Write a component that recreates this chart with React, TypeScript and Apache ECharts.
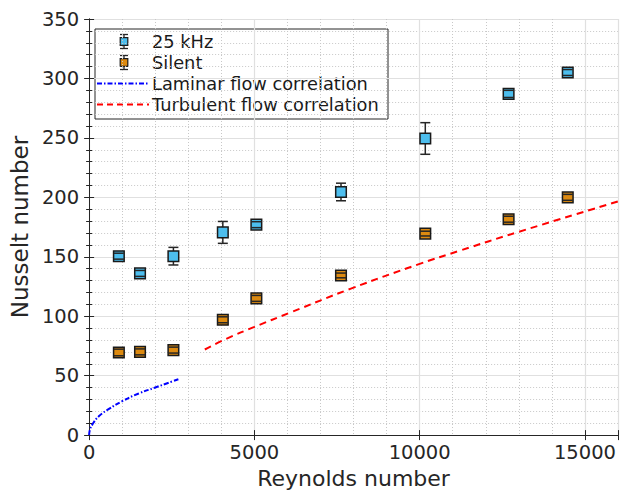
import React, { useEffect, useRef } from "react";
import * as echarts from "echarts";

const reKhz = [900, 1540, 2550, 4045, 5060, 7620, 10170, 12690, 14480];
const nuKhz = [150.5, 136, 150.5, 170.5, 177, 204.5, 249.5, 287, 305];
const errKhz = [2.5, 2.5, 7.4, 9.2, 2.5, 7.4, 13.3, 3, 2.5];

const reSilent = [900, 1540, 2550, 4045, 5060, 7620, 10170, 12690, 14480];
const nuSilent = [69.5, 70, 71.5, 97, 115, 134.3, 169.5, 181.6, 200];
const errSilent = [2.8, 2.5, 2.5, 2.5, 2.5, 2, 2, 2.5, 2.5];

const laminarRe = [0, 20, 100, 300, 600, 1000, 1500, 2000, 2700];
const laminarNu = [0, 4, 9, 16, 22, 28.5, 35, 40, 47];

const turbRe = [3500, 4150, 5000, 6080, 7900, 10000, 11200, 13000, 16000];
const turbNu = [72, 81, 91, 103, 123, 144, 155, 171, 196.5];

const xTicks = [0, 5000, 10000, 15000];
const yTicks = [0, 50, 100, 150, 200, 250, 300, 350];

const FONT = "DejaVu Sans, Liberation Sans, Arial, sans-serif";
const AX = "#262626";
const BLUE_FILL = "#4DBEEE";
const ORANGE_FILL = "#DD8A10";

function errRender(fill: string) {
  return (params: any, api: any) => {
    const x = api.value(0);
    const y = api.value(1);
    const e = api.value(2);
    const p = api.coord([x, y]);
    const t = api.coord([x, y + e]);
    const b = api.coord([x, y - e]);
    const h = 5.3;
    const c = 5;
    const ls = { stroke: AX, lineWidth: 1.5 };
    return {
      type: "group",
      children: [
        { type: "line", shape: { x1: p[0], y1: t[1], x2: p[0], y2: b[1] }, style: ls },
        {
          type: "rect",
          shape: { x: p[0] - h, y: p[1] - h, width: 2 * h, height: 2 * h },
          style: { fill, stroke: "#1a1a1a", lineWidth: 1.5 },
        },
        { type: "line", shape: { x1: p[0] - c, y1: t[1], x2: p[0] + c, y2: t[1] }, style: ls },
        { type: "line", shape: { x1: p[0] - c, y1: b[1], x2: p[0] + c, y2: b[1] }, style: ls },
      ],
    };
  };
}

function legendIcon(cx: number, cy: number, fill: string) {
  const h = 3.8;
  const ls = { stroke: AX, lineWidth: 1.3 };
  return [
    { type: "line", shape: { x1: cx, y1: cy - 7, x2: cx, y2: cy + 7 }, style: ls },
    { type: "rect", shape: { x: cx - h, y: cy - h, width: 2 * h, height: 2 * h }, style: { fill, stroke: "#1a1a1a", lineWidth: 1.2 } },
    { type: "line", shape: { x1: cx - 4, y1: cy - 7, x2: cx + 4, y2: cy - 7 }, style: ls },
    { type: "line", shape: { x1: cx - 4, y1: cy + 7, x2: cx + 4, y2: cy + 7 }, style: ls },
  ];
}

export default function App() {
  const ref = useRef<HTMLDivElement>(null);
  useEffect(() => {
    if (!ref.current) return;
    const chart = echarts.init(ref.current, null, { renderer: "svg" });
    const baseX = {
      type: "value" as const,
      min: 0,
      max: 16000,
      interval: 5000,
    };
    const baseY = {
      type: "value" as const,
      min: 0,
      max: 350,
      interval: 50,
    };
    const legendY = [41.5, 62.5, 83.5, 104.5];
    const legendTexts = ["25 kHz", "Silent", "Laminar flow correlation", "Turbulent flow correlation"];
    chart.setOption({
      animation: false,
      grid: { left: 88, right: 1, top: 19, bottom: 58, containLabel: false },
      xAxis: [
        {
          ...baseX,
          position: "bottom",
          name: "Reynolds number",
          nameLocation: "middle",
          nameGap: 28,
          nameTextStyle: { fontFamily: FONT, fontSize: 22, color: AX },
          axisLine: { show: true, lineStyle: { color: AX, width: 1 } },
          axisTick: { show: true, inside: true, length: 5, lineStyle: { color: AX } },
          minorTick: { show: true, splitNumber: 5, length: 0 },
          axisLabel: {
            fontFamily: FONT,
            fontSize: 19.5,
            color: AX,
            margin: 7,
            formatter: (v: number) => (xTicks.includes(v) ? String(v) : ""),
          },
          splitLine: { show: true, lineStyle: { color: "#e0e0e0", width: 1.2 } },
          minorSplitLine: { show: true, lineStyle: { color: "#c8c8c8", type: [1, 2], width: 1 } },
        },
        {
          ...baseX,
          position: "top",
          axisLine: { show: true, lineStyle: { color: AX, width: 1 } },
          axisTick: { show: true, inside: true, length: 5, lineStyle: { color: AX } },
          axisLabel: { show: false },
          splitLine: { show: false },
        },
      ],
      yAxis: [
        {
          ...baseY,
          position: "left",
          name: "Nusselt number",
          nameLocation: "middle",
          nameGap: 56,
          nameTextStyle: { fontFamily: FONT, fontSize: 23, color: AX },
          axisLine: { show: true, lineStyle: { color: AX, width: 1 } },
          axisTick: { show: true, inside: true, length: 5, lineStyle: { color: AX } },
          minorTick: { show: true, splitNumber: 5, length: 3, lineStyle: { color: AX } },
          axisLabel: {
            fontFamily: FONT,
            fontSize: 19.5,
            color: AX,
            margin: 10,
            formatter: (v: number) => (yTicks.includes(v) ? String(v) : ""),
          },
          splitLine: { show: true, lineStyle: { color: "#e0e0e0", width: 1.2 } },
          minorSplitLine: { show: true, lineStyle: { color: "#c8c8c8", type: [1, 2], width: 1 } },
        },
        {
          ...baseY,
          position: "right",
          axisLine: { show: true, lineStyle: { color: AX, width: 1 } },
          axisTick: { show: true, inside: true, length: 5, lineStyle: { color: AX } },
          minorTick: { show: true, splitNumber: 5, length: 3, lineStyle: { color: AX } },
          axisLabel: { show: false },
          splitLine: { show: false },
        },
      ],
      series: [
        {
          name: "Laminar flow correlation",
          type: "line",
          xAxisIndex: 0,
          yAxisIndex: 0,
          data: laminarRe.map((r, i) => [r, laminarNu[i]]),
          smooth: true,
          showSymbol: false,
          lineStyle: { color: "#0000FF", width: 2, type: [5, 2, 1.5, 2] },
          z: 3,
        },
        {
          name: "Turbulent flow correlation",
          type: "line",
          xAxisIndex: 0,
          yAxisIndex: 0,
          data: turbRe.map((r, i) => [r, turbNu[i]]),
          smooth: true,
          showSymbol: false,
          lineStyle: { color: "#FF0000", width: 2, type: [7, 5] },
          z: 3,
        },
        {
          name: "Silent",
          type: "custom",
          xAxisIndex: 0,
          yAxisIndex: 0,
          renderItem: errRender(ORANGE_FILL),
          data: reSilent.map((r, i) => [r, nuSilent[i], errSilent[i]]),
          encode: { x: 0, y: 1 },
          z: 4,
        },
        {
          name: "25 kHz",
          type: "custom",
          xAxisIndex: 0,
          yAxisIndex: 0,
          renderItem: errRender(BLUE_FILL),
          data: reKhz.map((r, i) => [r, nuKhz[i], errKhz[i]]),
          encode: { x: 0, y: 1 },
          z: 4,
        },
      ],
      graphic: [
        {
          type: "group",
          z: 100,
          children: [
            {
              type: "rect",
              shape: { x: 95, y: 29, width: 293, height: 90 },
              style: { fill: "#ffffff", stroke: AX, lineWidth: 1 },
            },
            ...legendIcon(124, legendY[0], BLUE_FILL),
            ...legendIcon(124, legendY[1], ORANGE_FILL),
            {
              type: "line",
              shape: { x1: 97, y1: legendY[2], x2: 149, y2: legendY[2] },
              style: { stroke: "#0000FF", lineWidth: 1.8, lineDash: [5, 2, 1.5, 2] },
            },
            {
              type: "line",
              shape: { x1: 97, y1: legendY[3], x2: 149, y2: legendY[3] },
              style: { stroke: "#FF0000", lineWidth: 1.8, lineDash: [6, 4] },
            },
            ...legendTexts.map((t, i) => ({
              type: "text",
              x: 152,
              y: legendY[i],
              style: {
                text: t,
                fontFamily: FONT,
                fontSize: 17.8,
                fill: "#1a1a1a",
                textVerticalAlign: "middle",
                verticalAlign: "middle",
              },
            })),
          ],
        },
      ],
    });
    return () => chart.dispose();
  }, []);
  return <div ref={ref} style={{ width: 621, height: 494, position: "absolute", left: 0, top: 0 }} />;
}
